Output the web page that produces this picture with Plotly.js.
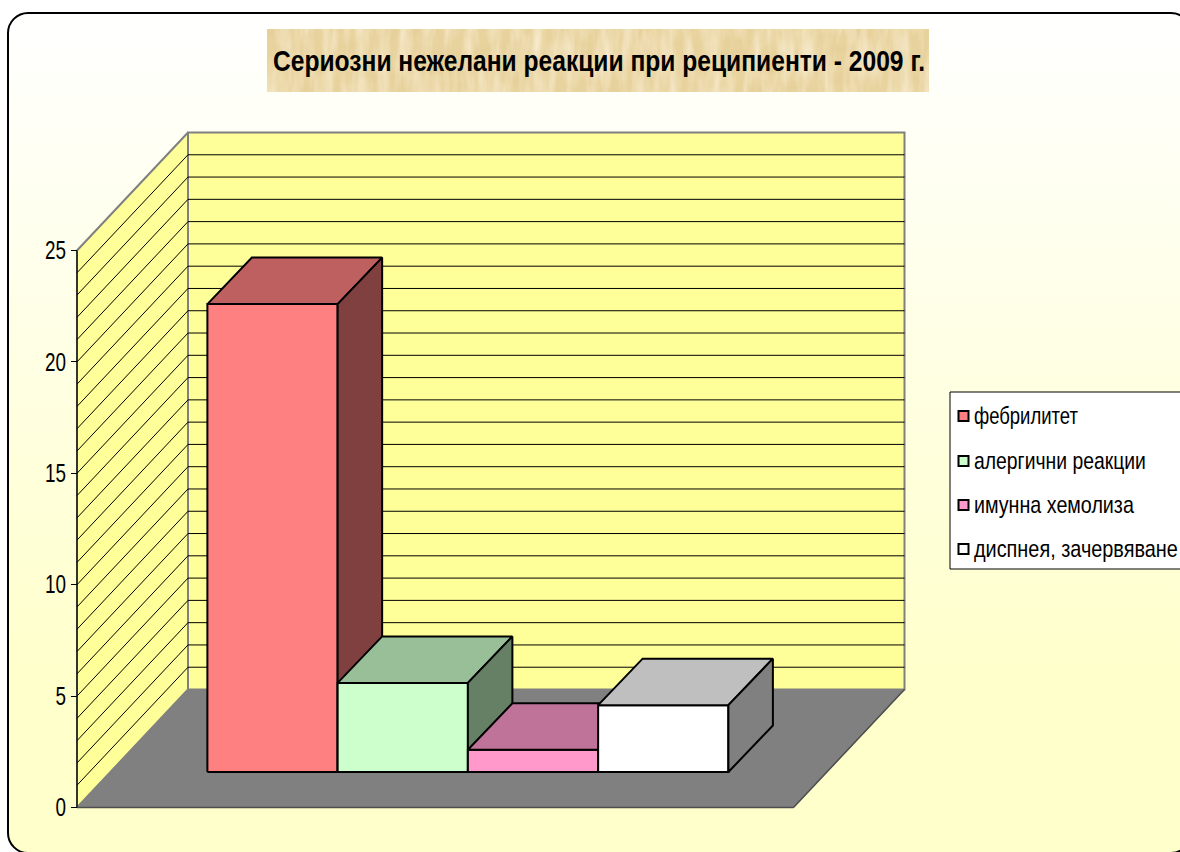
<!DOCTYPE html>
<html><head><meta charset="utf-8">
<script src="https://cdn.plot.ly/plotly-3.0.1.min.js"></script>
<style>html,body{margin:0;padding:0;background:#fff;overflow:hidden}#c{width:1180px;height:852px}</style>
</head><body><div id="c"></div>
<script>
const chartTitle = "Сериозни нежелани реакции при реципиенти - 2009 г.";
const seriesNames = ["фебрилитет", "алергични реакции", "имунна хемолиза", "диспнея, зачервяване"];
const seriesValues = [21, 4, 1, 3];
const frontColors = ["#FF8080", "#CCFFCC", "#FF99CC", "#FFFFFF"];
const topColors = ["#BF6060", "#99BF99", "#BF7399", "#BFBFBF"];
const sideColors = ["#804040", "#668066", "#804D66", "#808080"];
const tickValues = [0, 5, 10, 15, 20, 25];
const gridValues = [1,2,3,4,5,6,7,8,9,10,11,12,13,14,15,16,17,18,19,20,21,22,23,24];

const W = 1180, H = 852, FONT = '"Liberation Sans",Arial,sans-serif';
const slotPx = 130.25, unitPx = 22.28, originX = 77, originY = 807.5;
const floorWidth = 716.5 / slotPx, depthX = 111 / slotPx, depthY = 118 / unitPx, valueMax = 25;
const barInset = 97 / slotPx, barDepthStart = 35.5 / 118, barShiftX = 44.5 / slotPx, barShiftY = 46.5 / unitPx;
const invX = p => (p - originX) / slotPx, invY = p => (originY - p) / unitPx;

function proj(x, v, d) { return [x + d * depthX, v + d * depthY]; }
function barPt(x, v, back) {
  const p = proj(x, v, barDepthStart);
  return back ? [p[0] + barShiftX, p[1] + barShiftY] : p;
}
function poly(pts, fill, line, width, name) {
  const closed = pts.concat([pts[0]]);
  return { type: "scatter", mode: "lines", x: closed.map(p => p[0]), y: closed.map(p => p[1]),
    fill: "toself", fillcolor: fill, line: { color: line, width: width }, showlegend: false,
    hoverinfo: name ? "name" : "skip", name: name || "" };
}
function segs(list, color, width) {
  const x = [], y = [];
  list.forEach(s => { x.push(s[0][0], s[1][0], null); y.push(s[0][1], s[1][1], null); });
  return { type: "scatter", mode: "lines", x, y, line: { color, width }, showlegend: false, hoverinfo: "skip" };
}

const traces = [];
// side wall, back wall, floor
traces.push(poly([proj(0,0,0), proj(0,0,1), proj(0,valueMax,1), proj(0,valueMax,0)], "#FFFF99", "#808080", 2));
traces.push(poly([proj(0,0,1), proj(floorWidth,0,1), proj(floorWidth,valueMax,1), proj(0,valueMax,1)], "#FFFF99", "#808080", 2));
traces.push(segs(gridValues.map(v => [proj(0,v,0), proj(0,v,1)]), "#000000", 1));
traces.push(segs(gridValues.map(v => [proj(0,v,1), proj(floorWidth,v,1)]), "#000000", 1));
traces.push(poly([proj(0,0,0), proj(floorWidth,0,0), proj(floorWidth,0,1), proj(0,0,1)], "#808080", "#808080", 1));
traces.push(segs([[proj(0,0,0), proj(floorWidth,0,0)], [proj(floorWidth,0,0), proj(floorWidth,0,1)]], "#4D4D4D", 1.5));
traces.push(segs([[proj(0,0,0), proj(0,valueMax,0)]], "#000000", 1.2));

// bars
seriesValues.forEach((v, i) => {
  const a = barInset + i, b = a + 1, nm = seriesNames[i];
  traces.push(poly([barPt(a,0,false), barPt(b,0,false), barPt(b,v,false), barPt(a,v,false)], frontColors[i], "#000", 2, nm));
  traces.push(poly([barPt(a,v,false), barPt(b,v,false), barPt(b,v,true), barPt(a,v,true)], topColors[i], "#000", 2, nm));
  traces.push(poly([barPt(b,0,false), barPt(b,0,true), barPt(b,v,true), barPt(b,v,false)], sideColors[i], "#000", 2, nm));
});

// legend
const legendY = [416, 461, 505, 549];
const legendWidths = [104, 172, 160, 204];
seriesNames.forEach((n, i) => traces.push({ type: "scatter", mode: "markers", name: n, showlegend: false,
  x: [invX(963.5)], y: [invY(legendY[i])], hoverinfo: "name",
  marker: { symbol: "square", size: 10, color: frontColors[i], line: { color: "#000", width: 2 } } }));

const L = 8, T = 13, Rt = 1191, B = 853, R = 20, K = R * 0.45;
const grad = `<svg xmlns="http://www.w3.org/2000/svg" width="1180" height="852"><defs><linearGradient id="g" x1="0" y1="0" x2="0" y2="1"><stop offset="0" stop-color="#FFFFFF"/><stop offset="0.78" stop-color="#FFFFCC"/><stop offset="1" stop-color="#FFFFCC"/></linearGradient></defs><rect x="${L}" y="${T}" width="${Rt-L}" height="${B-T}" rx="${R}" ry="${R}" fill="url(#g)"/></svg>`;
const papyrus = '<svg xmlns="http://www.w3.org/2000/svg" width="662" height="63"><defs>' +
  '<filter id="a" x="0" y="0" width="100%" height="100%"><feTurbulence type="fractalNoise" baseFrequency="0.025 0.09" numOctaves="3" seed="4"/><feColorMatrix type="matrix" values="0 0 0 0 0.78  0 0 0 0 0.6  0 0 0 0 0.3  1.1 0 0 0 -0.38"/></filter>' +
  '<filter id="b" x="0" y="0" width="100%" height="100%"><feTurbulence type="fractalNoise" baseFrequency="0.09 0.02" numOctaves="3" seed="9"/><feColorMatrix type="matrix" values="0 0 0 0 1  0 0 0 0 0.93  0 0 0 0 0.78  1.2 0 0 0 -0.42"/></filter>' +
  '</defs><rect width="662" height="63" fill="#E8D39E"/><rect width="662" height="63" filter="url(#a)"/><rect width="662" height="63" filter="url(#b)"/></svg>';
const uri = s => "data:image/svg+xml;charset=utf-8," + encodeURIComponent(s);

const frame = `M ${L+R} ${T} L ${Rt-R} ${T} C ${Rt-K} ${T} ${Rt} ${T+K} ${Rt} ${T+R} L ${Rt} ${B-R} C ${Rt} ${B-K} ${Rt-K} ${B} ${Rt-R} ${B} L ${L+R} ${B} C ${L+K} ${B} ${L} ${B-K} ${L} ${B-R} L ${L} ${T+R} C ${L} ${T+K} ${L+K} ${T} ${L+R} ${T} Z`;
const toPaper = s => s.replace(/(-?\d+(?:\.\d+)?) (-?\d+(?:\.\d+)?)/g, (m, a, b) => (a / W) + " " + (1 - b / H));

const layout = {
  width: W, height: H, margin: { l: 0, r: 0, t: 0, b: 0, pad: 0 },
  paper_bgcolor: "#FFFFFF", plot_bgcolor: "rgba(0,0,0,0)", showlegend: false, hovermode: "closest",
  title: { text: chartTitle, x: 599 / W, xanchor: "center", y: 1 - 60 / H, yanchor: "middle",
    font: { family: FONT, size: 30, weight: 700, color: "#000" } },
  xaxis: { visible: false, range: [invX(0), invX(W)], domain: [0, 1], fixedrange: true },
  yaxis: { range: [invY(H), invY(0)], domain: [0, 1], anchor: "free", position: originX / W, side: "left",
    tickmode: "array", tickvals: tickValues, ticktext: tickValues.map(String), ticks: "outside", ticklen: 6,
    tickcolor: "#000", tickwidth: 1, showgrid: false, zeroline: false, showline: false, fixedrange: true,
    tickfont: { family: FONT, size: 25, color: "#000" } },
  images: [
    { source: uri(grad), xref: "paper", yref: "paper", x: 0, y: 1, sizex: 1, sizey: 1, xanchor: "left", yanchor: "top", sizing: "stretch", layer: "below" },
    { source: uri(papyrus), xref: "paper", yref: "paper", x: 267 / W, y: 1 - 29 / H, sizex: 662 / W, sizey: 63 / H, xanchor: "left", yanchor: "top", sizing: "stretch", layer: "below" }
  ],
  shapes: [
    { type: "path", xref: "paper", yref: "paper", path: toPaper(frame), line: { color: "#000", width: 2 }, layer: "below" },
    { type: "rect", xref: "paper", yref: "paper", x0: 950 / W, x1: 1200 / W, y0: 1 - 392 / H, y1: 1 - 569 / H, fillcolor: "#FFFFFF", line: { color: "#000", width: 1 }, layer: "below" }
  ],
  annotations: seriesNames.map((n, i) => ({ text: n, xref: "paper", yref: "paper", x: 974 / W, y: 1 - (legendY[i] - 1) / H,
    xanchor: "left", yanchor: "middle", showarrow: false, align: "left", borderpad: 0,
    font: { family: FONT, size: 24, color: "#000" } }))
};

// The reference uses a narrow sans face: condense the real text to its measured widths.
function condense(el, len) {
  el.setAttribute("textLength", len);
  el.setAttribute("lengthAdjust", "spacingAndGlyphs");
}
Plotly.newPlot("c", traces, layout, { displayModeBar: false, responsive: false }).then(gd => {
  const t = gd.querySelector(".gtitle");
  if (t) condense(t, 652);
  gd.querySelectorAll(".ytick text").forEach(e => condense(e, e.textContent.length * 10.5));
  gd.querySelectorAll(".annotation-text").forEach((e, i) => {
    const box = e.getBBox();
    const x0 = box.x - 1;
    e.setAttribute("text-anchor", "start");
    e.setAttribute("x", x0);
    const sx = legendWidths[i] / e.getComputedTextLength();
    e.setAttribute("transform", `translate(${x0} 0) scale(${sx} 1) translate(${-x0} 0)`);
  });
});
</script></body></html>
